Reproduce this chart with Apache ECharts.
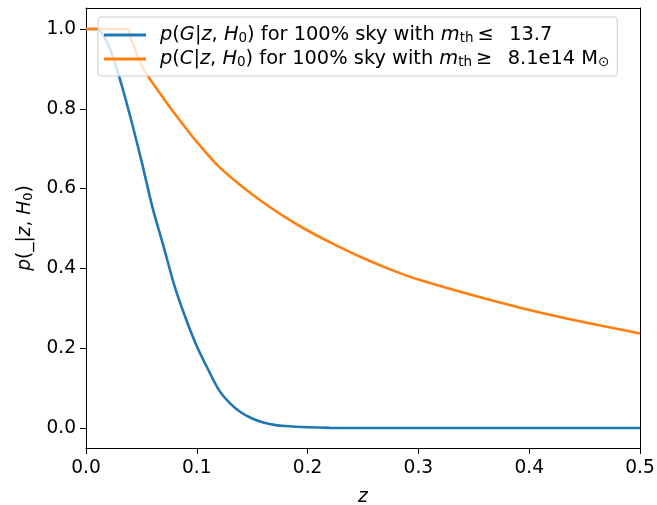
<!DOCTYPE html>
<html><head><meta charset="utf-8">
<script src="https://cdn.jsdelivr.net/npm/echarts@6/dist/echarts.min.js"></script>
<style>html,body{margin:0;padding:0;background:#fff}#c{width:657px;height:505px}</style>
</head><body><div id="c"></div>
<script>
const zG = [0, 0.01, 0.02, 0.03, 0.04, 0.05, 0.06, 0.07, 0.08, 0.09, 0.10, 0.11, 0.12, 0.13, 0.14, 0.15, 0.16, 0.17, 0.18, 0.20, 0.22, 0.25, 0.30, 0.40, 0.50];
const pG = [1.0, 1.0, 0.96, 0.88, 0.78, 0.67, 0.553, 0.455, 0.355, 0.275, 0.205, 0.148, 0.095, 0.062, 0.039, 0.024, 0.014, 0.008, 0.005, 0.002, 0.0005, 0, 0, 0, 0];
const zC = [0, 0.0376, 0.04, 0.05, 0.06, 0.07, 0.08, 0.09, 0.10, 0.12, 0.14, 0.16, 0.18, 0.20, 0.225, 0.25, 0.275, 0.30, 0.35, 0.40, 0.45, 0.50];
const pC = [1.0, 1.0, 0.98, 0.91, 0.865, 0.826, 0.788, 0.752, 0.717, 0.655, 0.607, 0.565, 0.528, 0.495, 0.459, 0.426, 0.397, 0.372, 0.332, 0.296, 0.265, 0.237];
const yTicks = [0, 0.2, 0.4, 0.6, 0.8, 1.0];
const nameG = '{i|p}({i|G}|{i|z}, {i|H}{s|0}) for 100% sky with {i|m}{s|th}{r|≤}  13.7';
const nameC = '{i|p}({i|C}|{i|z}, {i|H}{s|0}) for 100% sky with {i|m}{s|th}{r|≥}  8.1e14 M{s|⊙}';

const F = 'DejaVu Sans';
const FS = 18.6;
const LFS = 19.4;
const legendRich = {
  i: {fontFamily: F, fontSize: LFS, fontStyle: 'italic', color: '#000', lineHeight: 20},
  r: {fontFamily: F, fontSize: LFS, color: '#000', lineHeight: 20, padding: [0, 3, 0, 4]},
  s: {fontFamily: F, fontSize: 13.5, color: '#000', verticalAlign: 'bottom', lineHeight: 12, padding: [8, 0, 0, 0]}
};
const axisRich = {
  i: {fontFamily: F, fontSize: FS, fontStyle: 'italic', color: '#000', lineHeight: 20},
  s: {fontFamily: F, fontSize: 13, color: '#000', verticalAlign: 'bottom', lineHeight: 12, padding: [8, 0, 0, 0]}
};
const chart = echarts.init(document.getElementById('c'), null, {renderer: 'canvas'});
const axLine = {show: true, onZero: false, lineStyle: {color: '#000', width: 1}};
chart.setOption({
  animation: false,
  grid: {left: 86, right: 17, top: 8, bottom: 57, containLabel: false, outerBoundsMode: 'none'},
  legend: {
    orient: 'vertical', left: 98, top: 17,
    itemWidth: 42, itemHeight: 3, itemGap: 2,
    padding: [6, 8, 7, 6],
    icon: 'rect',
    backgroundColor: 'rgba(255,255,255,0.8)',
    borderColor: '#cccccc', borderWidth: 1, borderRadius: 3,
    data: [nameG, nameC],
    formatter: n => n,
    textStyle: {
      fontFamily: F, fontSize: LFS, color: '#000', lineHeight: 20, padding: [0, 0, 0, 9],
      rich: legendRich
    }
  },
  xAxis: [{
    type: 'value', min: 0, max: 0.5, interval: 0.1, position: 'bottom',
    axisLine: axLine, splitLine: {show: false},
    axisTick: {show: true, length: 6, lineStyle: {color: '#000'}},
    axisLabel: {fontFamily: F, fontSize: FS, color: '#000', margin: 11, formatter: v => v.toFixed(1)},
    name: 'z', nameLocation: 'middle', nameGap: 40,
    nameTextStyle: {fontFamily: F, fontSize: FS, fontStyle: 'italic', color: '#000'}
  }, {
    type: 'value', min: 0, max: 0.5, position: 'top',
    axisLine: axLine, axisTick: {show: false}, axisLabel: {show: false}, splitLine: {show: false}
  }],
  yAxis: [{
    type: 'value', min: -0.05, max: 1.0525, position: 'left',
    axisLine: axLine, splitLine: {show: false},
    axisTick: {show: true, length: 6, lineStyle: {color: '#000'}, customValues: yTicks},
    axisLabel: {fontFamily: F, fontSize: FS, color: '#000', margin: 10, customValues: yTicks, formatter: v => v.toFixed(1)},
    name: '{i|p}(_|{i|z}, {i|H}{s|0})', nameLocation: 'middle', nameGap: 48, nameRotate: 90,
    nameTextStyle: {fontFamily: F, fontSize: FS, color: '#000', rich: axisRich}
  }, {
    type: 'value', min: -0.05, max: 1.0525, position: 'right',
    axisLine: axLine, axisTick: {show: false}, axisLabel: {show: false}, splitLine: {show: false}
  }],
  series: [{
    name: nameG, type: 'line', showSymbol: false, symbol: 'none', smooth: 0.3,
    color: '#1f77b4', lineStyle: {width: 2.6, color: '#1f77b4'},
    data: zG.map((z, i) => [z, pG[i]])
  }, {
    name: nameC, type: 'line', showSymbol: false, symbol: 'none', smooth: 0.3,
    color: '#ff7f0e', lineStyle: {width: 2.6, color: '#ff7f0e'},
    data: zC.map((z, i) => [z, pC[i]])
  }]
});
</script></body></html>
